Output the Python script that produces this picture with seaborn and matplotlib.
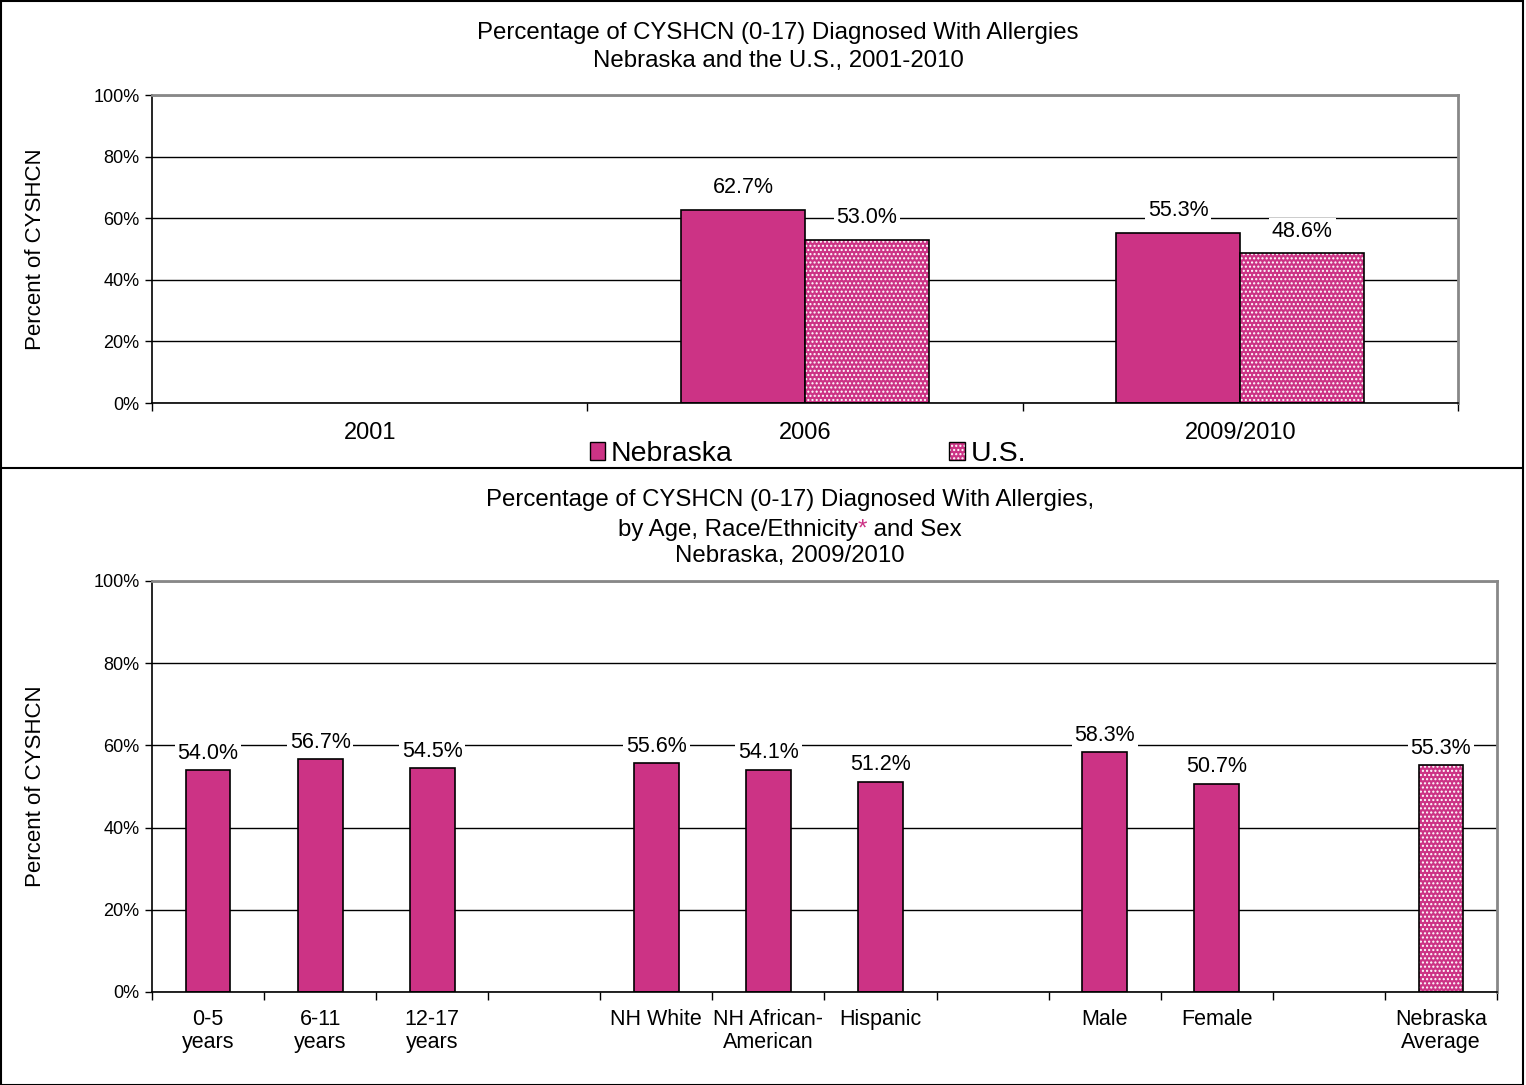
import numpy as np
import pandas as pd
import seaborn as sns
import matplotlib.pyplot as plt
from matplotlib.lines import Line2D
from matplotlib.patches import Rectangle

# data
years = ['2001', '2006', '2009/2010']
nebraska = [np.nan, 62.7, 55.3]
us = [np.nan, 53.0, 48.6]

groups = ['0-5\nyears', '6-11\nyears', '12-17\nyears', ' ',
          'NH White', 'NH African-\nAmerican', 'Hispanic', '  ',
          'Male', 'Female', '   ', 'Nebraska\nAverage']
group_vals = [54.0, 56.7, 54.5, np.nan, 55.6, 54.1, 51.2, np.nan, 58.3, 50.7, np.nan, 55.3]

MAG = '#CC3385'

sns.set_theme(style='white')
plt.rcParams['font.family'] = ['Liberation Sans', 'DejaVu Sans']
plt.rcParams.update({'text.color': 'black', 'axes.labelcolor': 'black',
                     'xtick.color': 'black', 'ytick.color': 'black'})

W, H = 1526, 1085
fig = plt.figure(figsize=(W / 100, H / 100), dpi=100)

TITLE_FS = 17.3


def style_axes(ax):
    ax.set_ylim(0, 100)
    ax.set_yticks([0, 20, 40, 60, 80, 100])
    ax.set_yticklabels([f'{v}%' for v in range(0, 101, 20)], fontsize=13)
    ax.yaxis.grid(True, color='black', linewidth=1)
    ax.set_axisbelow(True)
    for s in ['top', 'right']:
        ax.spines[s].set_color('#888888')
        ax.spines[s].set_linewidth(2)
    for s in ['left', 'bottom']:
        ax.spines[s].set_color('black')
        ax.spines[s].set_linewidth(1.2)
    ax.tick_params(axis='y', direction='out', length=5, width=1, color='black', left=True, pad=4)
    ax.set_ylabel('Percent of CYSHCN', fontsize=16, labelpad=0)
    ax.yaxis.set_label_coords(-(152 - 46) / (ax.get_position().width * W), 0.5)
    ax.set_xlabel('')


def hatch_patch(p):
    p.set_hatch('....')
    p.set_edgecolor('black')
    p._hatch_color = (1, 1, 1, 1)


def label(ax, x, v, dy):
    ax.annotate(f'{v:.1f}%', (x, v), xytext=(0, dy), textcoords='offset points',
                ha='center', va='center', fontsize=15.5,
                bbox=dict(facecolor='white', edgecolor='none', pad=2))


# ---- top chart
ax1 = fig.add_axes([152 / W, 1 - 403 / H, 1306 / W, 308 / H])
df1 = pd.DataFrame({'year': years * 2,
                    'value': nebraska + us,
                    'area': ['Nebraska'] * 3 + ['U.S.'] * 3})
sns.barplot(data=df1, x='year', y='value', hue='area', palette=[MAG, MAG], saturation=1,
            width=0.57, edgecolor='black', linewidth=1.2, ax=ax1, legend=False)
style_axes(ax1)
ax1.set_xlim(-0.5, 2.5)
ax1.set_xticks([0, 1, 2])
ax1.set_xticklabels(years, fontsize=17)
ax1.set_xticks([-0.5, 0.5, 1.5, 2.5], minor=True)
ax1.tick_params(axis='x', which='major', length=0, pad=14)
ax1.tick_params(axis='x', which='minor', direction='out', length=6, width=1, color='black', bottom=True)

for p in ax1.containers[1]:
    hatch_patch(p)
for c in ax1.containers:
    for p in c:
        h = p.get_height()
        if np.isfinite(h) and h > 0:
            label(ax1, p.get_x() + p.get_width() / 2, h, 16)

handles = [Rectangle((0, 0), 1, 1, facecolor=MAG, edgecolor='black'),
           Rectangle((0, 0), 1, 1, facecolor=MAG, edgecolor='black', hatch='....')]
handles[1]._hatch_color = (1, 1, 1, 1)
leg = fig.legend(handles, ['Nebraska', 'U.S.'], loc='center', bbox_to_anchor=(808 / W, 1 - 454 / H),
                 ncol=2, frameon=False, fontsize=20.5, handlelength=0.55, handleheight=0.55,
                 handletextpad=0.2, columnspacing=7.6, borderpad=0)

fig.text(778 / W, 1 - 33 / H, 'Percentage of CYSHCN (0-17) Diagnosed With Allergies',
         ha='center', va='center', fontsize=TITLE_FS)
fig.text(778 / W, 1 - 61 / H, 'Nebraska and the U.S., 2001-2010', ha='center', va='center', fontsize=TITLE_FS)

# ---- bottom chart
ax2 = fig.add_axes([152 / W, 1 - 992 / H, 1345 / W, 411 / H])
df2 = pd.DataFrame({'group': groups, 'value': group_vals})
sns.barplot(data=df2, x='group', y='value', color=MAG, saturation=1, width=0.4,
            edgecolor='black', linewidth=1.2, ax=ax2)
style_axes(ax2)
ax2.set_xlim(-0.5, len(groups) - 0.5)
ax2.set_xticks(range(len(groups)))
ax2.set_xticklabels([g.strip() for g in groups], fontsize=15.5, linespacing=1.15)
ax2.set_xticks(np.arange(-0.5, len(groups)), minor=True)
ax2.tick_params(axis='x', which='major', length=0, pad=12)
ax2.tick_params(axis='x', which='minor', direction='out', length=6, width=1, color='black', bottom=True)

bars2 = list(ax2.containers[0])
hatch_patch(bars2[-1])
for p in bars2:
    h = p.get_height()
    if np.isfinite(h) and h > 0:
        label(ax2, p.get_x() + p.get_width() / 2, h, 12)

fig.text(790 / W, 1 - 500 / H, 'Percentage of CYSHCN (0-17) Diagnosed With Allergies,',
         ha='center', va='center', fontsize=TITLE_FS)
fig.text(790 / W, 1 - 556 / H, 'Nebraska, 2009/2010', ha='center', va='center', fontsize=TITLE_FS)

# second title line with a coloured asterisk
parts = [('by Age, Race/Ethnicity', 'black'), ('*', MAG), (' and Sex', 'black')]
fig.canvas.draw()
r = fig.canvas.get_renderer()
texts = []
for s, col in parts:
    texts.append(fig.text(0, 1 - 536 / H, s, ha='left', va='baseline', fontsize=TITLE_FS, color=col))
widths = [t.get_window_extent(r).width for t in texts]
x = 790 - sum(widths) / 2
for t, w in zip(texts, widths):
    t.set_x(x / W)
    x += w

# frame
fig.add_artist(Rectangle((0.5 / W, 0.5 / H), 1 - 4 / W, 1 - 1.5 / H, transform=fig.transFigure,
                         fill=False, edgecolor='black', linewidth=1.5))
fig.add_artist(Line2D([0, 1 - 3 / W], [1 - 468 / H, 1 - 468 / H], transform=fig.transFigure,
                      color='black', linewidth=1.5))

fig.savefig('out.png', dpi=100, facecolor='white')
